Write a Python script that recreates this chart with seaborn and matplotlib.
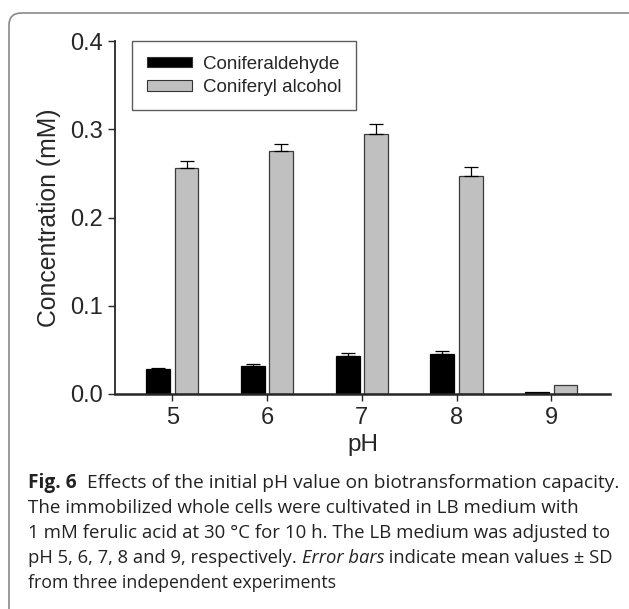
import matplotlib
matplotlib.use("Agg")
import matplotlib.pyplot as plt
import seaborn as sns
import pandas as pd
from matplotlib.patches import FancyBboxPatch

ph_labels = ["5", "6", "7", "8", "9"]
coniferaldehyde = [0.028, 0.032, 0.0435, 0.0457, 0.0026]
coniferaldehyde_sd = [0.002, 0.0015, 0.0025, 0.0033, 0.0]
coniferyl_alcohol = [0.2564, 0.2759, 0.2943, 0.2467, 0.0105]
coniferyl_alcohol_sd = [0.0076, 0.0071, 0.0112, 0.0101, 0.0]
series_names = ["Coniferaldehyde", "Coniferyl alcohol"]

df = pd.DataFrame({
    "pH": ph_labels * 2,
    "value": coniferaldehyde + coniferyl_alcohol,
    "series": [series_names[0]] * 5 + [series_names[1]] * 5,
})

sns.set_style("ticks")
plt.rcParams["font.family"] = ["Liberation Sans", "DejaVu Sans"]

W, H = 629, 609
fig = plt.figure(figsize=(W / 100, H / 100), dpi=100)
ax_l, ax_r, ax_t, ax_b = 115, 610, 41, 394
ax = fig.add_axes([ax_l / W, 1 - ax_b / H, (ax_r - ax_l) / W, (ax_b - ax_t) / H])

sns.barplot(data=df, x="pH", y="value", hue="series", order=ph_labels,
            hue_order=series_names, palette=["#000000", "#c0c0c0"],
            width=0.6, gap=0.16, errorbar=None, ax=ax, legend=True)

for patch_group, sds, ec in zip(ax.containers, [coniferaldehyde_sd, coniferyl_alcohol_sd],
                                ["#000000", "#3a3a3a"]):
    for p, sd in zip(patch_group.patches, sds):
        p.set_edgecolor(ec)
        p.set_linewidth(0.9)
        if sd > 0:
            xc = p.get_x() + p.get_width() / 2
            ax.errorbar(xc, p.get_height(), yerr=[[0], [sd]], fmt="none",
                        ecolor="#000000", elinewidth=0.9, capsize=4.7, capthick=0.9,
                        zorder=1)

ax.set_xlim(-0.605, 4.62)
ax.set_ylim(0, 0.4)
ax.set_yticks([0.0, 0.1, 0.2, 0.3, 0.4])
ax.set_yticklabels(["0.0", "0.1", "0.2", "0.3", "0.4"])
ax.tick_params(axis="both", labelsize=17, length=5, width=1.0, direction="out", pad=4)
ax.set_xlabel("pH", fontsize=17.5, labelpad=4)
ax.set_ylabel("Concentration (mM)", fontsize=17.8, labelpad=6)
for s in ["top", "right"]:
    ax.spines[s].set_visible(False)
ax.spines["left"].set_linewidth(1.3)
ax.spines["bottom"].set_linewidth(1.8)
ax.patch.set_alpha(0)

leg = ax.legend(loc="upper left", bbox_to_anchor=((132 - ax_l) / (ax_r - ax_l), 1.0),
                fontsize=13.5, frameon=True, fancybox=False, edgecolor="#333333",
                handlelength=2.4, handleheight=0.5, handletextpad=0.59,
                borderpad=0.78, labelspacing=0.33, borderaxespad=0)
leg.get_frame().set_linewidth(1.0)
for h in leg.legend_handles:
    h.set_edgecolor("#333333")
    h.set_linewidth(0.8)

border = FancyBboxPatch((9 / W, -0.05), (645 - 9) / W, (H - 13) / H + 0.05,
                        boxstyle="round,pad=0,rounding_size=0.02",
                        transform=fig.transFigure, fill=False, edgecolor="#8a8a8a",
                        linewidth=1.2, clip_on=False)
fig.patches.append(border)

cap_font = ["Open Sans", "DejaVu Sans"]
cap_color = "#222222"
x0 = 28
lines_y = [483, 508, 533, 558, 583]

# caption lines: list of (text, style kwargs) parts, with the right end (px) seen in the reference
caption_lines = [
    ([("Fig. 6", {"fontweight": "bold"}), ("  Effects of the initial pH value on biotransformation capacity.", {})], 618),
    ([("The immobilized whole cells were cultivated in LB medium with", {})], 578),
    ([("1 mM ferulic acid at 30 °C for 10 h. The LB medium was adjusted to", {})], 610),
    ([("pH 5, 6, 7, 8 and 9, respectively. ", {}), ("Error bars", {"style": "italic"}),
      (" indicate mean values ± SD", {})], 614),
    ([("from three independent experiments", {})], 337),
]


def draw_line(parts, yline, size):
    x = x0
    texts = []
    for s, kw in parts:
        t = fig.text(x / W, 1 - yline / H, s, fontsize=size, family=cap_font,
                     va="center", ha="left", color=cap_color, **kw)
        fig.canvas.draw()
        x = t.get_window_extent().x1
        texts.append(t)
    return texts, x


for (parts, xend), yl in zip(caption_lines, lines_y):
    base = 13.8
    texts, x = draw_line(parts, yl, base)
    size = base * (xend - x0) / (x - x0)
    size = max(min(size, 14.2), 12.6)
    for t in texts:
        t.remove()
    draw_line(parts, yl, size)

fig.savefig("out.png", dpi=100)
